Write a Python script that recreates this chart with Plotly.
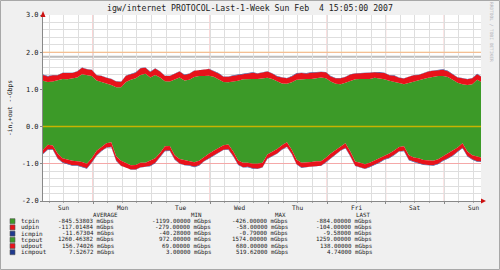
import plotly.graph_objects as go
from datetime import datetime, timedelta

# ---------------- data (Gbps) ----------------
start = datetime(2007, 1, 28, 3, 30)
end = datetime(2007, 2, 4, 15, 5)
times = [start + timedelta(hours=2 * i) for i in range(91)]

tcpout = [1.23, 1.20, 1.21, 1.24, 1.28, 1.27, 1.29, 1.32, 1.41, 1.39,
          1.36, 1.24, 1.19, 1.16, 1.12, 1.06, 1.06, 1.20, 1.26, 1.30,
          1.39, 1.42, 1.32, 1.39, 1.32, 1.22, 1.21, 1.26, 1.32, 1.24,
          1.26, 1.33, 1.36, 1.36, 1.37, 1.34, 1.27, 1.20, 1.19, 1.20,
          1.23, 1.27, 1.28, 1.28, 1.28, 1.30, 1.31, 1.28, 1.21, 1.16,
          1.15, 1.19, 1.26, 1.28, 1.28, 1.28, 1.31, 1.32, 1.30, 1.21,
          1.15, 1.14, 1.18, 1.23, 1.27, 1.28, 1.28, 1.28, 1.31, 1.30,
          1.27, 1.23, 1.21, 1.17, 1.14, 1.18, 1.21, 1.24, 1.28, 1.31,
          1.34, 1.36, 1.36, 1.33, 1.26, 1.18, 1.14, 1.12, 1.14, 1.26,
          1.19]
udpout = [0.16, 0.15, 0.17, 0.14, 0.16, 0.18, 0.15, 0.16, 0.17, 0.15,
          0.16, 0.14, 0.17, 0.15, 0.16, 0.15, 0.14, 0.17, 0.16, 0.15,
          0.18, 0.16, 0.15, 0.17, 0.16, 0.14, 0.15, 0.17, 0.16, 0.15,
          0.16, 0.17, 0.15, 0.16, 0.18, 0.15, 0.16, 0.14, 0.15, 0.17,
          0.16, 0.15, 0.16, 0.17, 0.15, 0.16, 0.17, 0.15, 0.14, 0.16,
          0.15, 0.16, 0.17, 0.16, 0.15, 0.17, 0.16, 0.15, 0.16, 0.14,
          0.15, 0.16, 0.15, 0.17, 0.16, 0.15, 0.16, 0.17, 0.15, 0.16,
          0.17, 0.15, 0.16, 0.14, 0.15, 0.16, 0.17, 0.15, 0.16, 0.17,
          0.16, 0.15, 0.17, 0.16, 0.15, 0.14, 0.16, 0.15, 0.16, 0.15,
          0.14]
icmpout = [0.008, 0.007, 0.009, 0.008, 0.007, 0.008, 0.009, 0.007, 0.008, 0.008,
           0.007, 0.009, 0.008, 0.007, 0.008, 0.009, 0.008, 0.007, 0.008, 0.008,
           0.008, 0.007, 0.009, 0.008, 0.007, 0.008, 0.009, 0.007, 0.008, 0.008,
           0.007, 0.009, 0.008, 0.007, 0.008, 0.009, 0.008, 0.007, 0.008, 0.008,
           0.008, 0.007, 0.009, 0.008, 0.007, 0.008, 0.009, 0.007, 0.008, 0.008,
           0.007, 0.009, 0.008, 0.007, 0.008, 0.009, 0.008, 0.007, 0.008, 0.008,
           0.008, 0.007, 0.009, 0.008, 0.007, 0.008, 0.009, 0.007, 0.008, 0.008,
           0.007, 0.009, 0.008, 0.007, 0.008, 0.009, 0.008, 0.007, 0.008, 0.008,
           0.008, 0.007, 0.009, 0.008, 0.007, 0.008, 0.009, 0.007, 0.008, 0.008,
           0.005]
tcpin = [-0.62, -0.49, -0.51, -0.72, -0.85, -0.89, -0.92, -0.93, -0.95, -1.00,
         -0.85, -0.65, -0.55, -0.45, -0.42, -0.80, -0.92, -0.97, -1.04, -1.03,
         -0.97, -0.97, -0.92, -0.85, -0.71, -0.53, -0.52, -0.77, -0.87, -0.90,
         -0.93, -0.96, -0.92, -0.82, -0.73, -0.65, -0.57, -0.50, -0.48, -0.67,
         -0.91, -0.97, -0.97, -1.00, -1.00, -0.97, -0.75, -0.68, -0.60, -0.50,
         -0.42, -0.62, -0.89, -0.97, -0.97, -0.95, -0.93, -0.93, -0.84, -0.72,
         -0.63, -0.53, -0.45, -0.67, -0.94, -0.97, -1.01, -0.97, -0.91, -0.84,
         -0.77, -0.72, -0.64, -0.55, -0.53, -0.77, -0.83, -0.85, -0.90, -0.92,
         -0.92, -0.88, -0.80, -0.73, -0.66, -0.56, -0.45, -0.67, -0.77, -0.81,
         -0.84]
udpin = [-0.11, -0.12, -0.10, -0.13, -0.11, -0.12, -0.12, -0.11, -0.13, -0.12,
         -0.11, -0.12, -0.10, -0.11, -0.12, -0.11, -0.13, -0.12, -0.11, -0.12,
         -0.12, -0.11, -0.13, -0.12, -0.11, -0.12, -0.12, -0.11, -0.12, -0.13,
         -0.11, -0.12, -0.12, -0.11, -0.12, -0.12, -0.11, -0.12, -0.13, -0.12,
         -0.11, -0.12, -0.11, -0.12, -0.13, -0.12, -0.11, -0.12, -0.12, -0.11,
         -0.12, -0.11, -0.12, -0.13, -0.12, -0.11, -0.12, -0.12, -0.11, -0.12,
         -0.12, -0.11, -0.12, -0.12, -0.11, -0.13, -0.12, -0.11, -0.12, -0.12,
         -0.11, -0.12, -0.12, -0.11, -0.12, -0.12, -0.11, -0.13, -0.12, -0.11,
         -0.12, -0.12, -0.11, -0.12, -0.12, -0.11, -0.12, -0.12, -0.11, -0.12,
         -0.10]
icmpin = [-0.012, -0.011, -0.013, -0.012, -0.010, -0.012, -0.013, -0.011, -0.012, -0.012,
          -0.011, -0.013, -0.012, -0.011, -0.012, -0.013, -0.012, -0.011, -0.012, -0.012,
          -0.012, -0.011, -0.013, -0.012, -0.010, -0.012, -0.013, -0.011, -0.012, -0.012,
          -0.011, -0.013, -0.012, -0.011, -0.012, -0.013, -0.012, -0.011, -0.012, -0.012,
          -0.012, -0.011, -0.013, -0.012, -0.010, -0.012, -0.013, -0.011, -0.012, -0.012,
          -0.011, -0.013, -0.012, -0.011, -0.012, -0.013, -0.012, -0.011, -0.012, -0.012,
          -0.012, -0.011, -0.013, -0.012, -0.010, -0.012, -0.013, -0.011, -0.012, -0.012,
          -0.011, -0.013, -0.012, -0.011, -0.012, -0.013, -0.012, -0.011, -0.012, -0.012,
          -0.012, -0.011, -0.013, -0.012, -0.010, -0.012, -0.013, -0.011, -0.012, -0.012,
          -0.010]

legend_names = ["tcpin", "udpin", "icmpin", "tcpout", "udpout", "icmpout"]
legend_avg = ["-845.53803", "-117.01484", "-11.67304", "1260.46382", "156.74026", "7.52672"]
legend_min = ["-1199.00000", "-279.00000", "-40.28000", "972.00000", "69.00000", "3.00000"]
legend_max = ["-426.00000", "-58.00000", "-0.79000", "1574.00000", "680.00000", "519.62000"]
legend_last = ["-884.00000", "-104.00000", "-9.58000", "1259.00000", "138.00000", "4.74000"]
legend_headers = ["AVERAGE", "MIN", "MAX", "LAST"]
day_labels = ["Sun", "Mon", "Tue", "Wed", "Thu", "Fri", "Sat", "Sun"]
y_ticks = [-2, -1, 0, 1, 2, 3]

title_text = "igw/internet PROTOCOL-Last-1-Week Sun Feb\u00a0 4 15:05:00 2007"
y_title = "-in,+out --Gbps"

# ---------------- style ----------------
GREEN = "#3c9a28"
RED = "#e8121a"
BLUE = "#1f3a8f"
W, H = 500, 270
L, R, T, B = 43, 19, 15, 69
PW, PH = W - L - R, H - T - B
MONO = "DejaVu Sans Mono"


def px(x):
    return (x - L) / PW


def py(y):
    return (H - B - y) / PH


fig = go.Figure()
series = [("tcpout", tcpout, GREEN, "out"), ("udpout", udpout, RED, "out"),
          ("icmpout", icmpout, BLUE, "out"),
          ("tcpin", tcpin, GREEN, "in"), ("udpin", udpin, RED, "in"),
          ("icmpin", icmpin, BLUE, "in")]
for name, vals, col, grp in series:
    fig.add_trace(go.Scatter(x=times, y=vals, name=name, stackgroup=grp,
                             mode="lines", line=dict(width=0, color=col),
                             fillcolor=col, showlegend=False, hoverinfo="skip"))

midnights = [datetime(2007, 1, 29) + timedelta(days=d) for d in range(7)]
noons = [datetime(2007, 1, 28, 12) + timedelta(days=d) for d in range(8)]

shapes = []
# midnight major grid lines (red-ish)
for m in midnights:
    shapes.append(dict(type="line", xref="x", yref="paper", x0=m, x1=m, y0=0, y1=1,
                       line=dict(color="#f5a8a8", width=1), layer="below"))
# special horizontal rules
shapes.append(dict(type="line", xref="paper", yref="y", x0=0, x1=1, y0=2.0, y1=2.0,
                   line=dict(color="#f3c98c", width=1), layer="above"))
shapes.append(dict(type="line", xref="paper", yref="y", x0=0, x1=1, y0=1.88, y1=1.88,
                   line=dict(color="#bdbdbd", width=2), layer="below"))
shapes.append(dict(type="line", xref="paper", yref="y", x0=0, x1=1, y0=0, y1=0,
                   line=dict(color="#c8b400", width=1.5), layer="above"))
# arrows
shapes.append(dict(type="path", xref="paper", yref="paper",
                   path=f"M {px(40.5)} {py(17)} L {px(45.5)} {py(17)} L {px(43)} {py(11)} Z",
                   fillcolor="#cc1010", line=dict(width=0)))
shapes.append(dict(type="path", xref="paper", yref="paper",
                   path=f"M {px(481)} {py(198.5)} L {px(481)} {py(203.5)} L {px(486)} {py(201)} Z",
                   fillcolor="#cc1010", line=dict(width=0)))
# image frame
shapes.append(dict(type="rect", xref="paper", yref="paper",
                   x0=px(0.5), x1=px(W - 0.5), y0=py(H - 0.5), y1=py(0.5),
                   line=dict(color="#a8a8a8", width=1), layer="below"))
# legend swatches
row_y = [221.2, 227.4, 233.6, 239.8, 246.0, 252.2]
sw_col = [GREEN, RED, BLUE, GREEN, RED, BLUE]
for yy, c in zip(row_y, sw_col):
    shapes.append(dict(type="rect", xref="paper", yref="paper",
                       x0=px(10), x1=px(15), y0=py(yy + 2.5), y1=py(yy - 2.5),
                       fillcolor=c, line=dict(color="#555555", width=0.6)))

ann = []
ann.append(dict(text=title_text, x=px(250), y=py(7.5), xref="paper", yref="paper",
                showarrow=False, xanchor="center", yanchor="middle",
                font=dict(family=MONO, size=8.2, color="#222222")))
ann.append(dict(text=y_title, x=px(10), y=py(108), xref="paper", yref="paper",
                showarrow=False, textangle=-90, xanchor="center", yanchor="middle",
                font=dict(family=MONO, size=6.2, color="#222222")))
ann.append(dict(text="RRDTOOL / TOBI OETIKER", x=px(492), y=py(32), xref="paper", yref="paper",
                showarrow=False, textangle=90, xanchor="center", yanchor="middle",
                font=dict(family=MONO, size=4.5, color="#b4b4bc")))
for lab, nn in zip(day_labels, noons):
    ann.append(dict(text=lab, x=nn, y=py(207.8), xref="x", yref="paper", showarrow=False,
                    xanchor="center", yanchor="middle",
                    font=dict(family=MONO, size=6.2, color="#222222")))
for hdr, hx in zip(legend_headers, [105, 196, 280, 363]):
    ann.append(dict(text=hdr, x=px(hx), y=py(215.0), xref="paper", yref="paper",
                    showarrow=False, xanchor="center", yanchor="middle",
                    font=dict(family=MONO, size=5.8, color="#222222")))
cols = [(legend_avg, 116), (legend_min, 213), (legend_max, 290), (legend_last, 374)]
for i, yy in enumerate(row_y):
    ann.append(dict(text=legend_names[i], x=px(18.5), y=py(yy), xref="paper", yref="paper",
                    showarrow=False, xanchor="left", yanchor="middle",
                    font=dict(family=MONO, size=6, color="#222222")))
    for arr, rx in cols:
        ann.append(dict(text=arr[i] + " mGbps", x=px(rx), y=py(yy), xref="paper",
                        yref="paper", showarrow=False, xanchor="right", yanchor="middle",
                        font=dict(family=MONO, size=5.8, color="#222222")))

fig.update_layout(
    width=W, height=H, margin=dict(l=L, r=R, t=T, b=B, pad=0),
    paper_bgcolor="#f0f0f0", plot_bgcolor="#ffffff",
    showlegend=False, shapes=shapes, annotations=ann,
    xaxis=dict(type="date", range=[start, end], showticklabels=False,
               showgrid=False, zeroline=False, showline=True, linecolor="#888888",
               linewidth=1, ticks="outside", ticklen=2, tickcolor="#888888",
               tickmode="array", tickvals=midnights,
               minor=dict(dtick=6 * 3600 * 1000, tick0="2007-01-28", showgrid=True,
                          gridcolor="#dedede", gridwidth=1, ticks="outside", ticklen=1,
                          tickcolor="#aaaaaa")),
    yaxis=dict(range=[-2, 3], tickmode="array", tickvals=y_ticks,
               ticktext=[f"{v:.1f}" for v in y_ticks], showgrid=True,
               gridcolor="#f5a8a8", gridwidth=1, zeroline=False, showline=True,
               linecolor="#888888", linewidth=1, ticks="outside", ticklen=2,
               tickcolor="#888888", tickfont=dict(family=MONO, size=7, color="#222222"),
               minor=dict(dtick=0.2, showgrid=True, gridcolor="#dedede", gridwidth=1)),
)

fig.write_html("out.html")
